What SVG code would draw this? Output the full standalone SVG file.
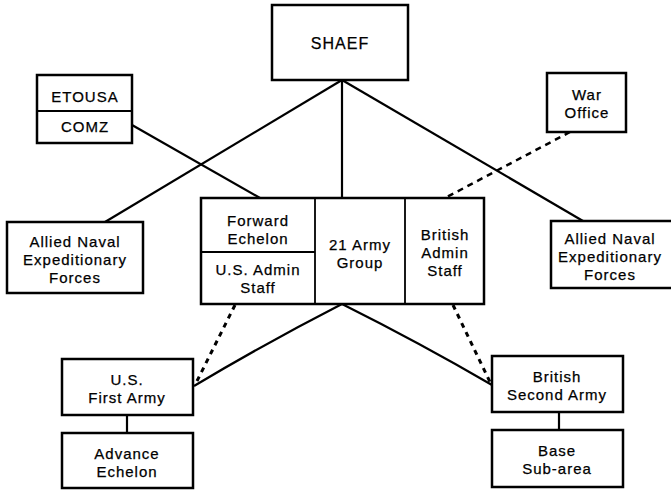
<svg xmlns="http://www.w3.org/2000/svg" width="671" height="490" viewBox="0 0 671 490">
<style>
.box{fill:#fff;stroke:#000;stroke-width:2.5}
.div{stroke:#000;stroke-width:1.8;fill:none}
.t{font-family:"Liberation Sans",Arial,sans-serif;font-size:15px;letter-spacing:1px;text-anchor:middle;fill:#000;stroke:#000;stroke-width:0.25}
.big{font-size:16px}
.ln{stroke:#000;stroke-width:2.2;fill:none}
.dash{stroke:#000;stroke-width:2.5;fill:none;stroke-dasharray:6 5}
.dot{stroke:#000;stroke-width:3;fill:none;stroke-dasharray:5 5}
</style>
<rect width="671" height="490" fill="#fff"/>
<g id="connectors">
<line class="ln" x1="342" y1="80" x2="105" y2="222"/>
<line class="ln" x1="342" y1="80" x2="342" y2="198"/>
<line class="ln" x1="342" y1="80" x2="583" y2="221"/>
<line class="ln" x1="132" y1="125" x2="260" y2="198"/>
<line class="dash" x1="570" y1="132" x2="445" y2="198"/>
<line class="dot" x1="235" y1="305" x2="195" y2="385"/>
<line class="dot" x1="453" y1="305" x2="490" y2="382"/>
<path class="ln" d="M342,304 Q266,343 194,386"/>
<path class="ln" d="M342,304 Q420,343 492,385"/>
<line class="ln" x1="127" y1="415" x2="127" y2="433"/>
<line class="ln" x1="559" y1="412" x2="559" y2="430"/>
</g>
<g id="shaef">
<rect class="box" x="272" y="5" width="136" height="75"/>
<text class="t big" x="340" y="49">SHAEF</text>
</g>
<g id="etousa-comz">
<rect class="box" x="37" y="75" width="95" height="68"/>
<line class="div" x1="37" y1="111" x2="132" y2="111"/>
<text class="t" x="85" y="102">ETOUSA</text>
<text class="t" x="85" y="132">COMZ</text>
</g>
<g id="war-office">
<rect class="box" x="547" y="73" width="79" height="59"/>
<text class="t" x="587" y="100">War</text>
<text class="t" x="587" y="118">Office</text>
</g>
<g id="allied-naval-left">
<rect class="box" x="7" y="222" width="136" height="71"/>
<text class="t" x="75" y="247">Allied Naval</text>
<text class="t" x="75" y="265">Expeditionary</text>
<text class="t" x="75" y="283">Forces</text>
</g>
<g id="allied-naval-right">
<rect class="box" x="551" y="221" width="125" height="67"/>
<text class="t" x="610" y="244">Allied Naval</text>
<text class="t" x="610" y="262">Expeditionary</text>
<text class="t" x="610" y="280">Forces</text>
</g>
<g id="army-group-21">
<rect class="box" x="201" y="198" width="283" height="106"/>
<line class="div" x1="315" y1="198" x2="315" y2="304"/>
<line class="div" x1="405" y1="198" x2="405" y2="304"/>
<line class="div" x1="201" y1="252" x2="315" y2="252"/>
<text class="t" x="258" y="226">Forward</text>
<text class="t" x="258" y="244">Echelon</text>
<text class="t" x="258" y="275">U.S. Admin</text>
<text class="t" x="258" y="293">Staff</text>
<text class="t" x="360" y="250">21 Army</text>
<text class="t" x="360" y="268">Group</text>
<text class="t" x="445" y="240">British</text>
<text class="t" x="445" y="258">Admin</text>
<text class="t" x="445" y="276">Staff</text>
</g>
<g id="us-first-army">
<rect class="box" x="62" y="359" width="131" height="56"/>
<text class="t" x="127" y="385">U.S.</text>
<text class="t" x="127" y="403">First Army</text>
</g>
<g id="advance-echelon">
<rect class="box" x="62" y="433" width="131" height="55"/>
<text class="t" x="127" y="459">Advance</text>
<text class="t" x="127" y="477">Echelon</text>
</g>
<g id="british-second-army">
<rect class="box" x="492" y="356" width="131" height="56"/>
<text class="t" x="557" y="382">British</text>
<text class="t" x="557" y="400">Second Army</text>
</g>
<g id="base-sub-area">
<rect class="box" x="492" y="430" width="131" height="57"/>
<text class="t" x="557" y="456">Base</text>
<text class="t" x="557" y="474">Sub-area</text>
</g>
</svg>
